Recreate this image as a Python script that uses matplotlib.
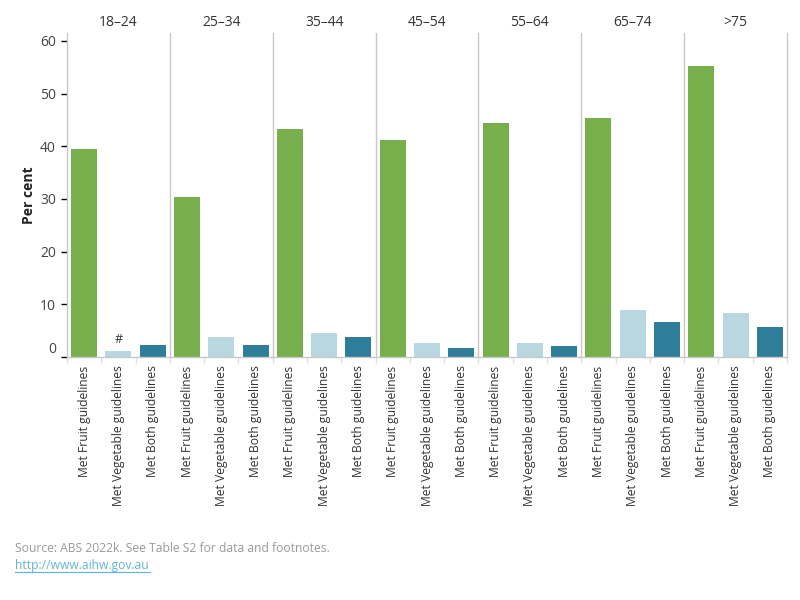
import matplotlib
matplotlib.use("Agg")
import matplotlib.pyplot as plt
import numpy as np

age_groups = ["18–24", "25–34", "35–44", "45–54", "55–64", "65–74", ">75"]
measures = ["Met Fruit guidelines", "Met Vegetable guidelines", "Met Both guidelines"]
fruit = [39.5, 30.4, 43.3, 41.2, 44.4, 45.3, 55.2]
vegetable = [1.2, 3.8, 4.6, 2.7, 2.7, 8.9, 8.4]
both = [2.3, 2.3, 3.8, 1.75, 2.1, 6.7, 5.7]
colors = ["#76AF4B", "#B8D7E0", "#2E7D99"]
yticks = [0, 10, 20, 30, 40, 50, 60]

plt.rcParams['font.family'] = ['Open Sans', 'DejaVu Sans']
fig = plt.figure(figsize=(8, 6), dpi=100)
ax = fig.add_axes([67/800, 1-357/600, 720/800, 324/600])

series = [fruit, vegetable, both]
labels = []
for g in range(len(age_groups)):
    for m in range(3):
        x = g*3 + m
        ax.bar(x, series[m][g], width=0.76, color=colors[m], zorder=2)
        labels.append(measures[m])

ax.text(1, vegetable[0] + 0.8, "#", ha='center', va='bottom', fontsize=9, color='#333333')

ax.set_xlim(-0.5, 3*len(age_groups) - 0.5)
ax.set_ylim(0, 61.5)
ax.set_xticks(np.arange(len(labels)))
ax.set_xticklabels(labels, rotation=90, fontsize=8.7, color='#333333')
ax.set_xticks(np.arange(len(labels)+1) - 0.5, minor=True)
ax.tick_params(axis='x', which='major', length=0, pad=6)
ax.tick_params(axis='x', which='minor', length=4, color='#e0e0e0', width=1)

ax.set_yticks(yticks)
ax.set_yticklabels([str(v) for v in yticks], fontsize=10, color='#444444')
ax.tick_params(axis='y', length=4, width=1, color='black', pad=4)
for lab in ax.get_yticklabels():
    if lab.get_text() == "0":
        lab.set_va('bottom')

for g in range(1, len(age_groups)):
    ax.axvline(g*3 - 0.5, color='#c8c8c8', linewidth=1, zorder=1)

ax.spines['top'].set_visible(False)
for side in ['left', 'bottom', 'right']:
    ax.spines[side].set_color('#c8c8c8')
    ax.spines[side].set_linewidth(1)

for g, name in enumerate(age_groups):
    ax.text(g*3 + 1, 1.01, name, transform=ax.get_xaxis_transform(),
            ha='center', va='bottom', fontsize=10, color='#333333')

ax.set_ylabel("Per cent", fontsize=10, fontweight='bold', color='#222222', labelpad=3)

fig.text(15/800, 1-549/600, "Source: ABS 2022k. See Table S2 for data and footnotes.",
         fontsize=8.7, color='#999999', va='center')
fig.text(15/800, 1-565/600, "http://www.aihw.gov.au", fontsize=8.7, color='#5fb4d6', va='center')
fig.add_artist(plt.Line2D([15/800, 150/800], [1-572/600, 1-572/600], color='#5fb4d6', linewidth=0.8))

fig.savefig("out.png", dpi=100)
